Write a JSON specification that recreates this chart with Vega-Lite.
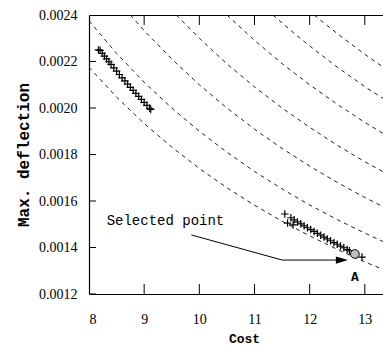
{
  "$schema": "https://vega.github.io/schema/vega-lite/v6.json",
  "width": 294,
  "height": 279,
  "autosize": "none",
  "padding": {"left": 89, "top": 15, "right": 0, "bottom": 54},
  "background": "white",
  "config": {"view": {"stroke": null}},
  "datasets": {
    "curves": [
      {"k": 1, "cost": 8, "deflection": 0.002175}, {"k": 1, "cost": 8.5, "deflection": 0.002047}, {"k": 1, "cost": 9, "deflection": 0.001933}, {"k": 1, "cost": 9.5, "deflection": 0.001832}, {"k": 1, "cost": 10, "deflection": 0.00174}, {"k": 1, "cost": 10.5, "deflection": 0.001657}, {"k": 1, "cost": 11, "deflection": 0.001582}, {"k": 1, "cost": 11.5, "deflection": 0.001513}, {"k": 1, "cost": 12, "deflection": 0.00145}, {"k": 1, "cost": 12.5, "deflection": 0.001392}, {"k": 1, "cost": 13, "deflection": 0.001338}, {"k": 1, "cost": 13.5, "deflection": 0.001289},
      {"k": 2, "cost": 8, "deflection": 0.002375}, {"k": 2, "cost": 8.5, "deflection": 0.002235}, {"k": 2, "cost": 9, "deflection": 0.002111}, {"k": 2, "cost": 9.5, "deflection": 0.002}, {"k": 2, "cost": 10, "deflection": 0.0019}, {"k": 2, "cost": 10.5, "deflection": 0.00181}, {"k": 2, "cost": 11, "deflection": 0.001727}, {"k": 2, "cost": 11.5, "deflection": 0.001652}, {"k": 2, "cost": 12, "deflection": 0.001583}, {"k": 2, "cost": 12.5, "deflection": 0.00152}, {"k": 2, "cost": 13, "deflection": 0.001462}, {"k": 2, "cost": 13.5, "deflection": 0.001407},
      {"k": 3, "cost": 8.75, "deflection": 0.0024}, {"k": 3, "cost": 9, "deflection": 0.002333}, {"k": 3, "cost": 9.5, "deflection": 0.002211}, {"k": 3, "cost": 10, "deflection": 0.0021}, {"k": 3, "cost": 10.5, "deflection": 0.002}, {"k": 3, "cost": 11, "deflection": 0.001909}, {"k": 3, "cost": 11.5, "deflection": 0.001826}, {"k": 3, "cost": 12, "deflection": 0.00175}, {"k": 3, "cost": 12.5, "deflection": 0.00168}, {"k": 3, "cost": 13, "deflection": 0.001615}, {"k": 3, "cost": 13.5, "deflection": 0.001556},
      {"k": 4, "cost": 9.583, "deflection": 0.0024}, {"k": 4, "cost": 10, "deflection": 0.0023}, {"k": 4, "cost": 10.5, "deflection": 0.00219}, {"k": 4, "cost": 11, "deflection": 0.002091}, {"k": 4, "cost": 11.5, "deflection": 0.002}, {"k": 4, "cost": 12, "deflection": 0.001917}, {"k": 4, "cost": 12.5, "deflection": 0.00184}, {"k": 4, "cost": 13, "deflection": 0.001769}, {"k": 4, "cost": 13.5, "deflection": 0.001704},
      {"k": 5, "cost": 10.5, "deflection": 0.0024}, {"k": 5, "cost": 11, "deflection": 0.002291}, {"k": 5, "cost": 11.5, "deflection": 0.002191}, {"k": 5, "cost": 12, "deflection": 0.0021}, {"k": 5, "cost": 12.5, "deflection": 0.002016}, {"k": 5, "cost": 13, "deflection": 0.001938}, {"k": 5, "cost": 13.5, "deflection": 0.001867},
      {"k": 6, "cost": 11.333, "deflection": 0.0024}, {"k": 6, "cost": 11.75, "deflection": 0.002315}, {"k": 6, "cost": 12, "deflection": 0.002267}, {"k": 6, "cost": 12.5, "deflection": 0.002176}, {"k": 6, "cost": 13, "deflection": 0.002092}, {"k": 6, "cost": 13.5, "deflection": 0.002015},
      {"k": 7, "cost": 12.083, "deflection": 0.0024}, {"k": 7, "cost": 12.5, "deflection": 0.00232}, {"k": 7, "cost": 13, "deflection": 0.002231}, {"k": 7, "cost": 13.5, "deflection": 0.002148}
    ],
    "crosses": [
      {"cost": 8.17, "deflection": 0.00225}, {"cost": 8.2, "deflection": 0.002248}, {"cost": 8.24, "deflection": 0.002235}, {"cost": 8.28, "deflection": 0.002223}, {"cost": 8.32, "deflection": 0.002211}, {"cost": 8.36, "deflection": 0.002199}, {"cost": 8.4, "deflection": 0.002188}, {"cost": 8.45, "deflection": 0.002173}, {"cost": 8.5, "deflection": 0.002159}, {"cost": 8.55, "deflection": 0.002144}, {"cost": 8.6, "deflection": 0.00213}, {"cost": 8.65, "deflection": 0.002117}, {"cost": 8.7, "deflection": 0.002103}, {"cost": 8.75, "deflection": 0.002089}, {"cost": 8.8, "deflection": 0.002076}, {"cost": 8.85, "deflection": 0.002063}, {"cost": 8.9, "deflection": 0.00205}, {"cost": 8.95, "deflection": 0.002037}, {"cost": 9.0, "deflection": 0.002024}, {"cost": 9.05, "deflection": 0.002011}, {"cost": 9.1, "deflection": 0.001999}, {"cost": 9.12, "deflection": 0.001994},
      {"cost": 11.55, "deflection": 0.001544}, {"cost": 11.6, "deflection": 0.001505}, {"cost": 11.66, "deflection": 0.001528}, {"cost": 11.7, "deflection": 0.001497}, {"cost": 11.72, "deflection": 0.001519}, {"cost": 11.78, "deflection": 0.00151}, {"cost": 11.84, "deflection": 0.001502}, {"cost": 11.9, "deflection": 0.001493}, {"cost": 11.96, "deflection": 0.001485}, {"cost": 12.02, "deflection": 0.001477}, {"cost": 12.08, "deflection": 0.001469}, {"cost": 12.14, "deflection": 0.001461}, {"cost": 12.2, "deflection": 0.001453}, {"cost": 12.26, "deflection": 0.001445}, {"cost": 12.32, "deflection": 0.001437}, {"cost": 12.38, "deflection": 0.001429}, {"cost": 12.44, "deflection": 0.001421}, {"cost": 12.5, "deflection": 0.001414}, {"cost": 12.56, "deflection": 0.001406}, {"cost": 12.62, "deflection": 0.001399}, {"cost": 12.68, "deflection": 0.001391}, {"cost": 12.72, "deflection": 0.001386}, {"cost": 12.95, "deflection": 0.001359}
    ],
    "selected": [{"cost": 12.82, "deflection": 0.001372}],
    "arrow": [
      {"cost": 9.855, "deflection": 0.001454},
      {"cost": 11.503, "deflection": 0.001346},
      {"cost": 12.6, "deflection": 0.001346}
    ],
    "arrowhead": [{"cost": 12.585, "deflection": 0.001346}],
    "notes": [{"cost": 8.32, "deflection": 0.001514, "text": "Selected point"}],
    "labelA": [{"cost": 12.82, "deflection": 0.001275, "text": "A"}],
    "xticks": [
      {"cost": 9, "deflection": 0.0012}, {"cost": 10, "deflection": 0.0012}, {"cost": 11, "deflection": 0.0012}, {"cost": 12, "deflection": 0.0012}, {"cost": 13, "deflection": 0.0012},
      {"cost": 9, "deflection": 0.0024}, {"cost": 10, "deflection": 0.0024}, {"cost": 11, "deflection": 0.0024}, {"cost": 12, "deflection": 0.0024}, {"cost": 13, "deflection": 0.0024}
    ],
    "yticks": [
      {"cost": 8, "deflection": 0.0012}, {"cost": 8, "deflection": 0.0014}, {"cost": 8, "deflection": 0.0016}, {"cost": 8, "deflection": 0.0018}, {"cost": 8, "deflection": 0.002}, {"cost": 8, "deflection": 0.0022}
    ]
  },
  "resolve": {"axis": {"x": "independent", "y": "independent"}},
  "layer": [
    {
      "data": {"name": "curves"},
      "mark": {"type": "line", "strokeDash": [4, 4], "strokeWidth": 1, "color": "#222222", "clip": true},
      "encoding": {
        "x": {"field": "cost", "type": "quantitative", "scale": {"domain": [8, 13.33], "nice": false, "zero": false},
          "axis": {"orient": "bottom", "title": "Cost", "values": [8, 9, 10, 11, 12, 13], "grid": false, "ticks": false, "domainColor": "black", "domainWidth": 1.2, "labelFont": "Liberation Serif", "labelFontSize": 14, "labelColor": "black", "labelPadding": 18, "titleFont": "Liberation Mono", "titleFontWeight": "bold", "titleFontSize": 13, "titleColor": "black", "titleX": 155, "titleY": 38}},
        "y": {"field": "deflection", "type": "quantitative", "scale": {"domain": [0.0012, 0.0024], "nice": false, "zero": false},
          "axis": {"orient": "left", "title": "Max. deflection", "values": [0.0012, 0.0014, 0.0016, 0.0018, 0.002, 0.0022, 0.0024], "format": ".4f", "grid": false, "ticks": false, "domainColor": "black", "domainWidth": 1.2, "labelFont": "Liberation Serif", "labelFontSize": 14, "labelColor": "black", "labelPadding": 12, "titleFont": "Liberation Mono", "titleFontWeight": "bold", "titleFontSize": 16, "titleColor": "black", "titlePadding": 7}},
        "detail": {"field": "k", "type": "nominal"},
        "order": {"field": "cost", "type": "quantitative"}
      }
    },
    {
      "data": {"name": "arrow"},
      "mark": {"type": "line", "color": "black", "strokeWidth": 1},
      "encoding": {
        "x": {"field": "cost", "type": "quantitative", "scale": {"domain": [8, 13.33], "nice": false, "zero": false},
          "axis": {"orient": "top", "title": null, "labels": false, "ticks": false, "grid": false, "domainColor": "black", "domainWidth": 1.2}},
        "y": {"field": "deflection", "type": "quantitative", "scale": {"domain": [0.0012, 0.0024], "nice": false, "zero": false}, "axis": null},
        "order": {"field": "cost", "type": "quantitative"}
      }
    },
    {
      "data": {"name": "xticks"},
      "mark": {"type": "tick", "orient": "vertical", "size": 20, "thickness": 1, "color": "black", "opacity": 1, "clip": true},
      "encoding": {
        "x": {"field": "cost", "type": "quantitative", "axis": null},
        "y": {"field": "deflection", "type": "quantitative", "axis": null}
      }
    },
    {
      "data": {"name": "yticks"},
      "mark": {"type": "tick", "orient": "horizontal", "size": 14, "thickness": 1, "color": "black", "opacity": 1, "clip": true},
      "encoding": {
        "x": {"field": "cost", "type": "quantitative", "axis": null},
        "y": {"field": "deflection", "type": "quantitative", "axis": null}
      }
    },
    {
      "data": {"name": "arrowhead"},
      "mark": {"type": "point", "shape": "M1,0L-1,-0.6L-1,0.6Z", "filled": true, "color": "black", "size": 144, "opacity": 1},
      "encoding": {
        "x": {"field": "cost", "type": "quantitative", "axis": null},
        "y": {"field": "deflection", "type": "quantitative", "axis": null}
      }
    },
    {
      "data": {"name": "crosses"},
      "mark": {"type": "point", "shape": "M-1,0H1M0,-1V1", "filled": false, "stroke": "black", "strokeWidth": 1.2, "size": 56, "opacity": 1},
      "encoding": {
        "x": {"field": "cost", "type": "quantitative", "axis": null},
        "y": {"field": "deflection", "type": "quantitative", "axis": null}
      }
    },
    {
      "data": {"name": "selected"},
      "mark": {"type": "point", "shape": "circle", "filled": true, "fill": "#c0c0c0", "stroke": "black", "strokeWidth": 1, "size": 75, "opacity": 1},
      "encoding": {
        "x": {"field": "cost", "type": "quantitative", "axis": null},
        "y": {"field": "deflection", "type": "quantitative", "axis": null}
      }
    },
    {
      "data": {"name": "notes"},
      "mark": {"type": "text", "align": "left", "baseline": "middle", "font": "Liberation Mono", "fontSize": 14, "color": "black"},
      "encoding": {
        "x": {"field": "cost", "type": "quantitative", "axis": null},
        "y": {"field": "deflection", "type": "quantitative", "axis": null},
        "text": {"field": "text"}
      }
    },
    {
      "data": {"name": "labelA"},
      "mark": {"type": "text", "align": "center", "baseline": "middle", "font": "Liberation Mono", "fontWeight": "bold", "fontSize": 13, "color": "black"},
      "encoding": {
        "x": {"field": "cost", "type": "quantitative", "axis": null},
        "y": {"field": "deflection", "type": "quantitative", "axis": null},
        "text": {"field": "text"}
      }
    }
  ]
}
